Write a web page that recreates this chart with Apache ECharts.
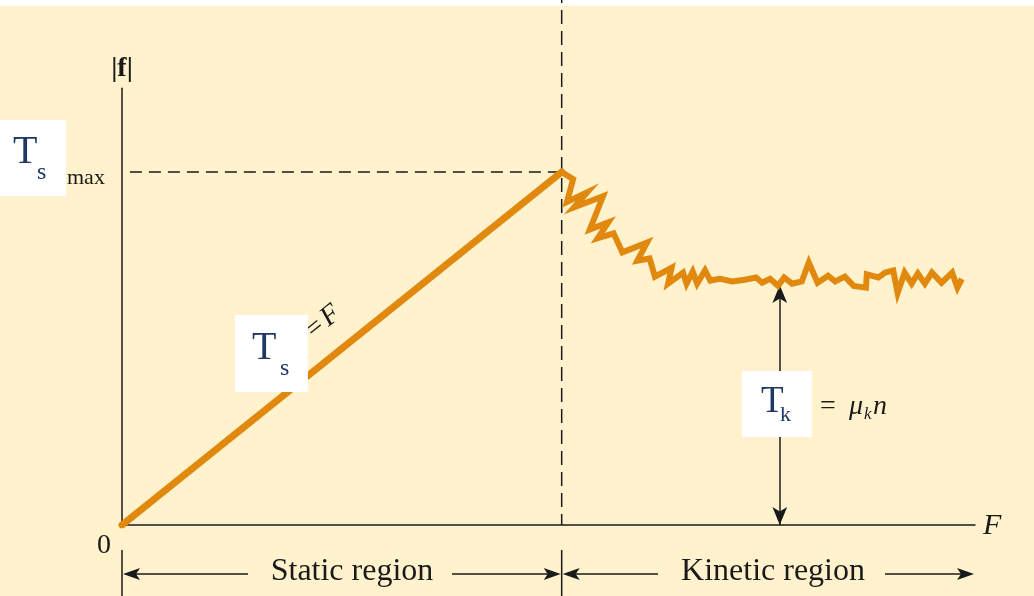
<!DOCTYPE html>
<html>
<head>
<meta charset="utf-8">
<script src="https://cdn.jsdelivr.net/npm/echarts@6/dist/echarts.min.js"></script>
<style>
  html, body { margin: 0; padding: 0; background: #fff; }
  #chart { width: 1034px; height: 596px; background: linear-gradient(#fff 0, #fff 6px, #FFF2CC 6px); }
</style>
</head>
<body>
<div id="chart"></div>
<script>
// Friction |f| against applied force F (arbitrary units)
const staticForce = [0, 50];
const staticFriction = [0, 80];

// kinetic region: friction drops from the static maximum and jitters about μk·n
const kineticForce = [50, 51.3, 50.6, 52.9, 51.4, 54.7, 53.2, 55.3, 54.1, 55.9, 56.9, 59.7, 58.6, 60.0, 60.6,
  62.5, 62.1, 63.8, 64.2, 64.9, 65.4, 66.3, 66.9, 68.0, 69.4, 70.8, 72.1, 72.8, 73.7, 74.6, 75.3, 76.2,
  77.3, 78.1, 79.1, 80.3, 81.1, 82.2, 83.2, 84.6, 84.7, 86.0, 86.8, 87.7, 88.2, 89.0, 89.8, 90.5, 91.3,
  92.1, 93.2, 94.4, 95.0, 95.5];
const kineticFriction = [80, 78.4, 73.2, 75.4, 72.0, 74.5, 67.0, 68.6, 65.0, 66.1, 61.8, 64.0, 59.9, 60.4, 56.3,
  58.3, 54.7, 57.2, 54.7, 57.4, 54.7, 57.7, 55.4, 55.8, 55.2, 55.6, 56.1, 54.9, 55.8, 54.2, 56.1, 54.7,
  55.2, 59.5, 54.9, 56.5, 55.2, 56.3, 54.2, 53.8, 56.8, 56.1, 57.2, 57.7, 52.6, 57.2, 54.7, 57.0, 54.7,
  57.2, 54.9, 57.2, 53.8, 55.8];

const fsMax = 80;          // maximum static friction
const slipForce = 50;      // force at which sliding starts
const fkLevel = 54.4;      // kinetic friction μk·n
const fkMarkerForce = 74.8;
const forceAxisMax = 97;
const frictionAxisMax = 99;
const dividerTop = 119;    // the region divider runs up past the axis top

const regionLabels = ['Static region', 'Kinetic region'];

const ORANGE = '#E1890E';
const INK = '#1a1a1a';
const NAVY = '#1F3864';
const SERIF = '"Liberation Serif", "DejaVu Serif", serif';

const zip = (xs, ys) => xs.map((x, i) => [x, ys[i]]);

const chart = echarts.init(document.getElementById('chart'), null, { renderer: 'canvas' });

chart.setOption({
  animation: false,
  backgroundColor: 'transparent',
  grid: { left: 122, right: 59, top: 88.2, bottom: 71, containLabel: false },
  xAxis: {
    type: 'value', min: 0, max: forceAxisMax,
    axisLine: { show: true, onZero: false, lineStyle: { color: INK, width: 1.5 } },
    axisTick: { show: false }, axisLabel: { show: false }, splitLine: { show: false }
  },
  yAxis: {
    type: 'value', min: 0, max: frictionAxisMax,
    axisLine: { show: true, onZero: false, lineStyle: { color: INK, width: 1.5 } },
    axisTick: { show: false }, axisLabel: { show: false }, splitLine: { show: false }
  },
  series: [
    {
      name: 'fs max guide', type: 'line', symbol: 'none', silent: true, z: 1,
      data: [[0.9, fsMax], [slipForce, fsMax]],
      lineStyle: { color: INK, width: 1.5, type: [12, 7] }
    },
    {
      name: 'region divider', type: 'line', symbol: 'none', silent: true, z: 1, clip: false,
      data: [[slipForce, 0], [slipForce, dividerTop]],
      lineStyle: { color: INK, width: 1.5, type: [14, 7], dashOffset: 3 }
    },
    {
      name: 'static', type: 'line', symbol: 'none', silent: true, z: 3,
      data: zip(staticForce, staticFriction),
      lineStyle: { color: ORANGE, width: 7, cap: 'round' }
    },
    {
      name: 'kinetic', type: 'line', symbol: 'none', silent: true, z: 3,
      data: zip(kineticForce, kineticFriction),
      lineStyle: { color: ORANGE, width: 6, join: 'miter', miterLimit: 6 },
      markLine: {
        silent: true, z: 2,
        symbol: ['arrow', 'arrow'], symbolSize: [11, 18],
        label: { show: false },
        lineStyle: { color: INK, width: 1.5, type: 'solid' },
        data: [[{ coord: [fkMarkerForce, 0] }, { coord: [fkMarkerForce, fkLevel] }]]
      }
    }
  ]
});

// ---- annotations -------------------------------------------------------
const px = (x, y) => chart.convertToPixel({ gridIndex: 0 }, [x, y]);
const x0 = px(0, 0)[0];
const xSlip = px(slipForce, 0)[0];
const arrowY = 574;

function arrowHead(tipX, y, dir) {
  // dir = -1 points left, +1 points right
  const len = 17, half = 6, notch = 4;
  return {
    type: 'polygon', silent: true,
    shape: { points: [[tipX, y], [tipX - dir * len, y - half], [tipX - dir * (len - notch), y], [tipX - dir * len, y + half]] },
    style: { fill: INK }
  };
}
function hLine(xa, xb, y) {
  return { type: 'line', silent: true, shape: { x1: xa, y1: y, x2: xb, y2: y }, style: { stroke: INK, lineWidth: 1.6 } };
}
function vLine(x, ya, yb) {
  return { type: 'line', silent: true, shape: { x1: x, y1: ya, x2: x, y2: yb }, style: { stroke: INK, lineWidth: 1.5 } };
}
function txt(x, y, text, font, align, fill) {
  return {
    type: 'text', silent: true, x: x, y: y,
    style: { text: text, font: font, fill: fill || INK, align: align || 'left', verticalAlign: 'middle' }
  };
}
function box(x, y, w, h) {
  return { type: 'rect', silent: true, shape: { x: x, y: y, width: w, height: h }, style: { fill: '#fff' } };
}

const graphics = [
  // axis titles and origin
  txt(122, 69, '|f|', 'bold 28px ' + SERIF, 'center'),
  txt(983, 526, 'F', 'italic 30px ' + SERIF, 'left'),
  txt(104, 546, '0', '28px ' + SERIF, 'center'),

  // region brackets below the axis
  vLine(x0, 550, 596),
  vLine(xSlip, 550, 596),
  hLine(x0 + 4, 248, arrowY), arrowHead(x0 + 1, arrowY, -1),
  hLine(452, xSlip - 4, arrowY), arrowHead(xSlip - 1, arrowY, 1),
  hLine(xSlip + 4, 658, arrowY), arrowHead(xSlip + 1, arrowY, -1),
  hLine(885, 970, arrowY), arrowHead(974, arrowY, 1),
  txt(352, 572, regionLabels[0], '32px ' + SERIF, 'center'),
  txt(773, 572, regionLabels[1], '32px ' + SERIF, 'center'),

  // "max" tag on the fs,max guide
  txt(67, 178, 'max', '22px ' + SERIF, 'left'),

  // "= F" along the static line (partly covered by the Ts box)
  {
    type: 'text', silent: true, x: 323, y: 322, rotation: Math.atan2(80 * 4.4125, 50 * 8.794),
    style: {
      text: '{a|=} {b|F}', align: 'center', verticalAlign: 'middle', fill: INK,
      rich: { a: { font: '28px ' + SERIF, fill: INK }, b: { font: 'italic 28px ' + SERIF, fill: INK } }
    }
  },

  // "= μk n" beside the kinetic arrow
  txt(820, 407, '=', '28px ' + SERIF, 'left'),
  txt(849, 407, 'μ', 'italic 28px ' + SERIF, 'left'),
  txt(864, 415, 'k', 'italic 17px ' + SERIF, 'left'),
  txt(873, 407, 'n', 'italic 28px ' + SERIF, 'left'),

  // white symbol boxes
  box(0, 120, 66, 76),
  txt(13, 152, 'T', '40px ' + SERIF, 'left', NAVY),
  txt(37, 173, 's', '24px ' + SERIF, 'left', NAVY),

  box(235, 315, 73, 77),
  txt(252, 348, 'T', '40px ' + SERIF, 'left', NAVY),
  txt(280, 369, 's', '24px ' + SERIF, 'left', NAVY),

  box(742, 371, 70, 66),
  txt(761, 402, 'T', '37px ' + SERIF, 'left', NAVY),
  txt(780, 415, 'k', '22px ' + SERIF, 'left', NAVY)
];

chart.setOption({ graphic: { elements: graphics.map(g => Object.assign({ z: 100 }, g)) } });
</script>
</body>
</html>
